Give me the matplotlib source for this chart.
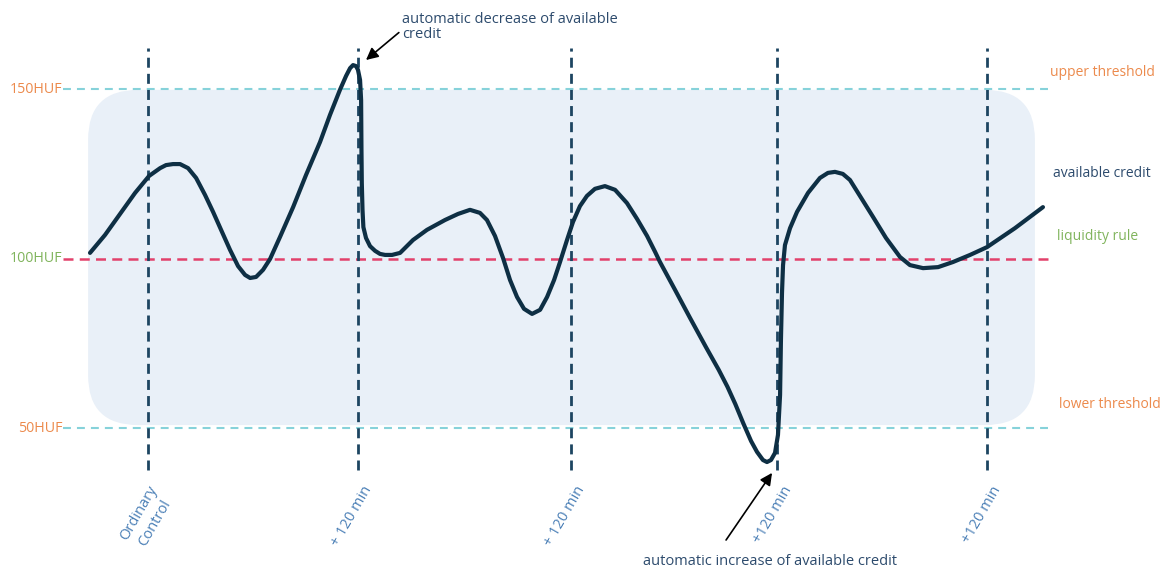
import numpy as np
import matplotlib
matplotlib.use('Agg')
import matplotlib.pyplot as plt
from matplotlib.patches import FancyBboxPatch

plt.rcParams['font.family'] = ['Open Sans', 'DejaVu Sans']

# control times (minutes) and their labels
control_t = [0, 120, 242, 360, 480]
control_labels = ['Ordinary\nControl', '+ 120 min', '+ 120 min', '+120 min', '+120 min']

# threshold levels (HUF)
levels = [150, 100, 50]
level_labels = ['150HUF', '100HUF', '50HUF']

# available credit curve (minutes, HUF)
credit_t = [-33.2, -24.6, -16.0, -7.4, 0.6, 6.9, 10.3, 14.3, 18.3, 22.9, 27.5, 32.6,
            37.2, 42.3, 46.9, 51.5, 55.5, 58.4, 61.8, 65.8, 69.8, 75.5, 83.0, 90.4,
            98.4, 104.1, 109.8, 113.3, 115.6, 117.3, 119.0, 120.1, 121.3, 121.9,
            122.1, 122.3, 122.7, 123.2, 124.7, 127.0, 129.9, 132.7, 135.6, 139.6,
            144.2, 151.6, 159.6, 169.9, 177.4, 184.2, 189.9, 193.9, 198.5, 203.1,
            207.1, 211.1, 215.1, 219.7, 224.3, 228.3, 232.3, 235.7, 239.7, 243.1,
            247.1, 251.1, 255.7, 261.4, 267.2, 274.0, 279.8, 285.5, 290.1, 292.9,
            301.5, 310.1, 319.2, 326.5, 331.5, 336.0, 340.5, 345.0, 348.4, 351.8,
            354.1, 356.4, 358.7, 360.4, 361.6, 362.1, 362.7, 363.3, 364.4, 367.3,
            371.3, 377.6, 384.4, 389.0, 393.0, 397.5, 401.6, 407.3, 414.8, 422.2,
            430.2, 435.9, 443.4, 452.0, 460.5, 470.3, 480.0, 496.0, 512.0]
credit_v = [101.8, 107.1, 113.3, 119.5, 124.5, 126.8, 127.7, 128.0, 128.0, 126.8, 123.9, 118.9,
            113.9, 108.0, 102.7, 97.9, 95.3, 94.4, 94.7, 96.8, 100.0, 106.5, 115.3, 124.8,
            134.5, 142.5, 149.9, 154.0, 156.3, 157.2, 156.9, 155.8, 152.8, 146.9,
            132.2, 122.4, 114.5, 109.4, 106.2, 103.8, 102.4, 101.5, 101.2, 101.2,
            101.8, 105.6, 108.6, 111.5, 113.3, 114.5, 113.6, 111.5, 106.8, 100.3,
            93.8, 88.8, 85.3, 83.8, 85.0, 88.8, 93.8, 99.1, 105.6, 110.9,
            115.6, 118.6, 120.7, 121.5, 120.4, 116.5, 111.8, 106.8, 102.1, 99.1,
            90.9, 82.6, 74.0, 67.3, 62.3, 57.2, 51.6, 46.3, 43.1, 40.7,
            40.1, 40.7, 42.8, 48.1, 59.9, 76.1, 90.0, 98.2, 104.1, 109.1,
            113.9, 119.5, 123.9, 125.4, 125.7, 125.1, 123.3, 118.6, 112.4, 106.2,
            100.6, 98.2, 97.3, 97.6, 99.1, 101.2, 103.5, 109.1, 115.3]

NAVY = '#0e2f44'
VLINE = '#1d4561'
ORANGE = '#ec8a4c'
GREEN = '#80b45c'
TEXT = '#2d4b6d'
TICK = '#4a7fb6'
CYAN = '#86d2da'
RED = '#e2416b'

fig = plt.figure(figsize=(11.66, 5.67), dpi=100)
ax = fig.add_axes([0, 0, 1, 1])
ax.set_xlim(-84.7, 582.4)
ax.set_ylim(9.14, 176.4)
ax.axis('off')

# shaded band between the thresholds
band = FancyBboxPatch((-34.3, 51.0), 541.7, 98.9,
                      boxstyle='round,pad=0,rounding_size=28.6',
                      mutation_aspect=0.514, facecolor='#e9f0f8',
                      edgecolor='none', zorder=0)
ax.add_patch(band)

# threshold lines
for lv, lab in zip(levels, level_labels):
    if lv == 100:
        ax.plot([-48.5, 515], [lv, lv], color=RED, lw=1.8, dashes=(4, 2.5), zorder=2)
        col = GREEN
    else:
        ax.plot([-48.5, 517], [lv, lv], color=CYAN, lw=1.5, dashes=(3.8, 2.9), zorder=2)
        col = ORANGE
    ax.text(-48.8, lv, lab, color=col, fontsize=10.3, ha='right', va='center')

# control lines
for t, lab in zip(control_t, control_labels):
    ax.plot([t, t], [37.8, 162.2], color=VLINE, lw=2, dashes=(3.6, 2.2), zorder=3)
    dx = 16.5 if '\n' in lab else 10
    ax.text(t + dx, 33.8, lab, color=TICK, fontsize=10.5, rotation=60,
            ha='right', va='top', multialignment='center', linespacing=1.35)

ax.plot(credit_t, credit_v, color=NAVY, lw=3, solid_joinstyle='round',
        solid_capstyle='round', zorder=4)

# right side labels
ax.text(516, 154.9, 'upper threshold', color=ORANGE, fontsize=10, va='center')
ax.text(517.7, 125.1, 'available credit', color=TEXT, fontsize=10, va='center')
ax.text(520, 106.5, 'liquidity rule', color=GREEN, fontsize=10, va='center')
ax.text(521.2, 57.2, 'lower threshold', color=ORANGE, fontsize=10, va='center')

# annotations
ax.text(145.3, 173.0, 'automatic decrease of available\ncredit', color=TEXT,
        fontsize=10.5, ha='left', va='top', linespacing=1.0)
ax.annotate('', xy=(124.7, 158.7), xytext=(143.5, 166.8),
            arrowprops=dict(arrowstyle='-|>', color='black', lw=1.2,
                            mutation_scale=18, shrinkA=0, shrinkB=0))
ax.text(355.8, 10.9, 'automatic increase of available credit', color=TEXT,
        fontsize=10.5, ha='center', va='center')
ax.annotate('', xy=(357, 36.9), xytext=(330.7, 17.1),
            arrowprops=dict(arrowstyle='-|>', color='black', lw=1.2,
                            mutation_scale=18, shrinkA=0, shrinkB=0))

fig.savefig('out.png', dpi=100)
